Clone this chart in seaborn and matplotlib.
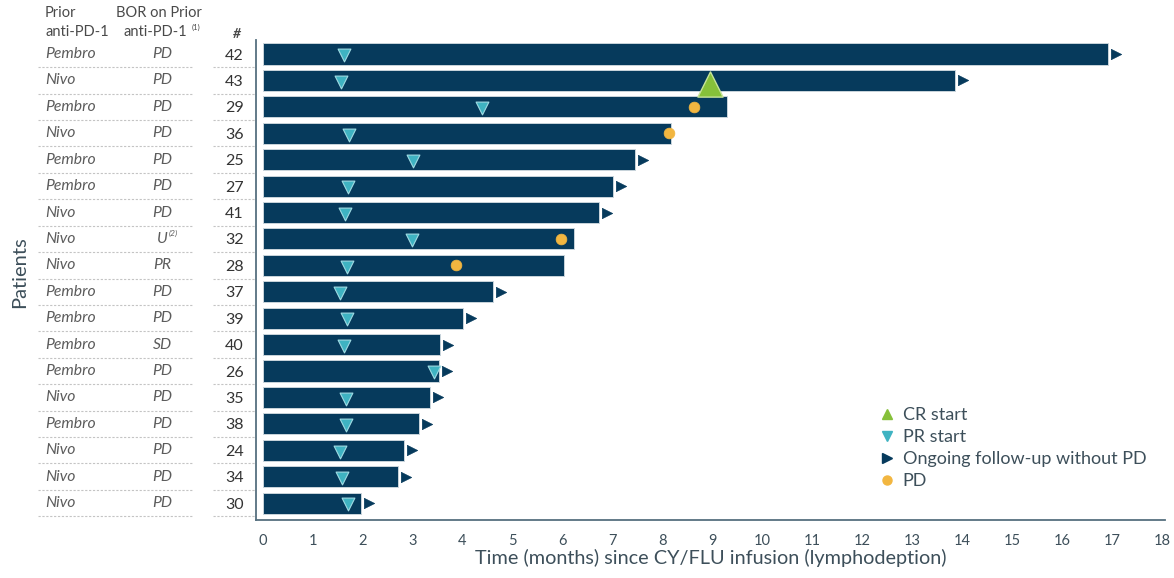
import matplotlib
matplotlib.use("Agg")
import matplotlib.pyplot as plt
import matplotlib.transforms as mtransforms
from matplotlib.lines import Line2D
import seaborn as sns
import pandas as pd

# Patient rows, top to bottom
patients = ["42", "43", "29", "36", "25", "27", "41", "32", "28",
            "37", "39", "40", "26", "35", "38", "24", "34", "30"]
prior_pd1 = ["Pembro", "Nivo", "Pembro", "Nivo", "Pembro", "Pembro", "Nivo", "Nivo", "Nivo",
             "Pembro", "Pembro", "Pembro", "Pembro", "Nivo", "Pembro", "Nivo", "Nivo", "Nivo"]
bor_prior = ["PD", "PD", "PD", "PD", "PD", "PD", "PD", "U", "PR",
             "PD", "PD", "SD", "PD", "PD", "PD", "PD", "PD", "PD"]
bor_note = {"32": "(2)"}
# Follow-up duration (months since CY/FLU infusion)
followup = [16.9, 13.85, 9.28, 8.17, 7.45, 7.01, 6.73, 6.23, 6.03,
            4.61, 4.01, 3.55, 3.53, 3.35, 3.13, 2.83, 2.70, 1.97]
# Time of PR start per patient
pr_start = [1.63, 1.57, 4.39, 1.73, 3.01, 1.70, 1.64, 2.98, 1.69,
            1.55, 1.69, 1.63, 3.43, 1.66, 1.67, 1.55, 1.59, 1.71]
# CR start
cr_patients = ["43"]
cr_start = [8.95]
# Progressive disease
pd_patients = ["29", "36", "32", "28"]
pd_time = [8.63, 8.13, 5.96, 3.87]
# Ongoing follow-up without PD
ongoing_patients = ["42", "43", "25", "27", "41", "37", "39", "40", "26",
                    "35", "38", "24", "34", "30"]

NAVY = "#063a5c"
TEAL = "#3fb3c2"
GREEN = "#86c03a"
ORANGE = "#f2b640"
SPINE = "#56707f"
TXT = "#3d4f5a"
GREY_TXT = "#5c5c5c"

sns.set_theme(style="white")
plt.rcParams["font.family"] = ["Lato", "DejaVu Sans"]

W, H = 1174, 578
fig = plt.figure(figsize=(W / 100, H / 100), dpi=100)
ax = fig.add_axes([256 / W, 1 - 520 / H, (1165 - 256) / W, (520 - 40) / H])

df = pd.DataFrame({"patient": patients, "months": followup})
sns.barplot(data=df, x="months", y="patient", order=patients, orient="h",
            color=NAVY, saturation=1, width=0.8, edgecolor="#c9d4db",
            linewidth=0.7, ax=ax)

pos = {p: i for i, p in enumerate(patients)}

# Ongoing follow-up arrows just past the bar end
ong = pd.DataFrame({"x": [followup[pos[p]] + 0.16 for p in ongoing_patients],
                    "y": [pos[p] for p in ongoing_patients]})
sns.scatterplot(data=ong, x="x", y="y", marker=">", s=55, color=NAVY,
                edgecolor=NAVY, linewidth=0.5, ax=ax, zorder=4)

# PR start
pr = pd.DataFrame({"x": pr_start, "y": [pos[p] + 0.05 for p in patients]})
sns.scatterplot(data=pr, x="x", y="y", marker="v", s=85, color=TEAL,
                edgecolor="#9fdbe3", linewidth=0.8, ax=ax, zorder=5)

# PD
pdd = pd.DataFrame({"x": pd_time, "y": [pos[p] for p in pd_patients]})
sns.scatterplot(data=pdd, x="x", y="y", marker="o", s=60, color=ORANGE,
                edgecolor=ORANGE, linewidth=0.5, ax=ax, zorder=5)

# CR start
cr = pd.DataFrame({"x": cr_start, "y": [pos[p] + 0.12 for p in cr_patients]})
sns.scatterplot(data=cr, x="x", y="y", marker="^", s=330, color=GREEN,
                edgecolor="#c6e39a", linewidth=1.0, ax=ax, zorder=6)

ax.set_xlim(-0.13, 18.05)
ax.set_ylim(len(patients) - 1 + 0.64, -0.53)
ax.set_xticks(range(0, 19))
ax.set_xticklabels([str(i) for i in range(0, 19)], fontsize=10.5, color=TXT)
ax.set_yticks(range(len(patients)))
ax.set_yticklabels(patients, fontsize=11.5, color="#333333")
ax.tick_params(axis="both", which="both", direction="out", length=5,
               width=1, color=SPINE)
ax.tick_params(axis="x", pad=5)
ax.tick_params(axis="y", pad=4)
for side in ["top", "right"]:
    ax.spines[side].set_visible(False)
for side in ["left", "bottom"]:
    ax.spines[side].set_color(SPINE)
    ax.spines[side].set_linewidth(1.3)
ax.set_xlabel("Time (months) since CY/FLU infusion (lymphodeption)",
              fontsize=14.3, color=TXT, labelpad=1)
ax.set_ylabel("")

# Left-side table of prior therapy
trans = mtransforms.blended_transform_factory(fig.transFigure, ax.transData)
for i, (pid, drug, bor) in enumerate(zip(patients, prior_pd1, bor_prior)):
    ax.text(45 / W, i, drug, transform=trans, ha="left", va="center",
            fontsize=11.3, style="italic", color=GREY_TXT, clip_on=False)
    ax.text(162 / W, i, bor, transform=trans, ha="center", va="center",
            fontsize=11.3, style="italic", color=GREY_TXT, clip_on=False)
    if pid in bor_note:
        ax.text(168.5 / W, i - 0.2, bor_note[pid], transform=trans, ha="left",
                va="center", fontsize=6, style="italic", color=GREY_TXT,
                clip_on=False)
    for x0, x1 in [(38, 193), (213, 255)]:
        ax.add_line(Line2D([x0 / W, x1 / W], [i + 0.5, i + 0.5], transform=trans,
                           color="#c4c4c4", lw=0.8, ls=(0, (2, 1.5)),
                           clip_on=False))

fig.text(45 / W, 1 - 13 / H, "Prior", ha="left", va="center",
         fontsize=10.5, color="#4a4a4a")
fig.text(45 / W, 1 - 32 / H, "anti-PD-1", ha="left", va="center",
         fontsize=10.5, color="#4a4a4a")
fig.text(159 / W, 1 - 13 / H, "BOR on Prior", ha="center", va="center",
         fontsize=10.5, color="#4a4a4a")
fig.text(155 / W, 1 - 32 / H, "anti-PD-1", ha="center", va="center",
         fontsize=10.5, color="#4a4a4a")
fig.text(192 / W, 1 - 27 / H, "(1)", ha="left", va="center",
         fontsize=5.5, color="#4a4a4a")
fig.text(237 / W, 1 - 34 / H, "#", ha="center", va="center",
         fontsize=10, style="italic", weight="bold", color="#4a4a4a")

fig.text(20 / W, 1 - 272 / H, "Patients", rotation=90, ha="center",
         va="center", fontsize=14.5, color=TXT)

handles = [
    Line2D([], [], ls="none", marker="^", ms=6.5, color=GREEN, label="CR start"),
    Line2D([], [], ls="none", marker="v", ms=6.5, color=TEAL, label="PR start"),
    Line2D([], [], ls="none", marker=">", ms=6.5, color=NAVY,
           label="Ongoing follow-up without PD"),
    Line2D([], [], ls="none", marker="o", ms=6.5, color=ORANGE, label="PD"),
]
fig.legend(handles=handles, loc="upper left", bbox_to_anchor=(882 / W, 1 - 407 / H),
           frameon=False, fontsize=13, labelcolor=TXT, handlelength=0.6,
           handletextpad=0.55, labelspacing=0.33, borderaxespad=0, borderpad=0)

fig.savefig("out.png", dpi=100)
